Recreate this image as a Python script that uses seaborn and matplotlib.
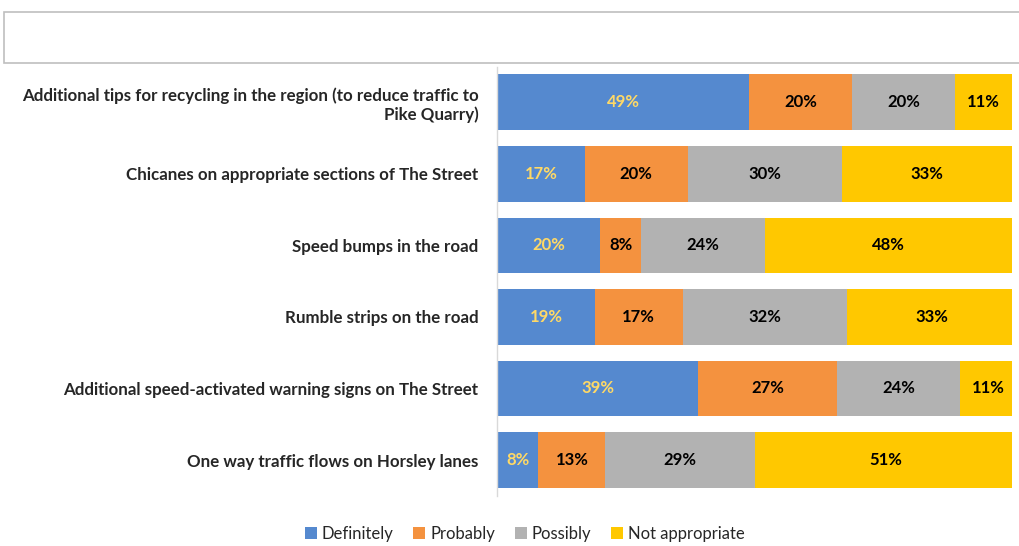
import matplotlib
matplotlib.use("Agg")
import matplotlib.pyplot as plt
from matplotlib.patches import Rectangle, Patch
import numpy as np
import pandas as pd
import seaborn as sns

categories = [
    "Additional tips for recycling in the region (to reduce traffic to\nPike Quarry)",
    "Chicanes on appropriate sections of The Street",
    "Speed bumps in the road",
    "Rumble strips on the road",
    "Additional speed-activated warning signs on The Street",
    "One way traffic flows on Horsley lanes",
]
series_names = ["Definitely", "Probably", "Possibly", "Not appropriate"]
definitely = [49, 17, 20, 19, 39, 8]
probably = [20, 20, 8, 17, 27, 13]
possibly = [20, 30, 24, 32, 24, 29]
not_appropriate = [11, 33, 48, 33, 11, 51]

colors = ["#5589CF", "#F4923F", "#B2B2B2", "#FFC800"]
label_colors = ["#FFD966", "#000000", "#000000", "#000000"]

sns.set_theme(style="white")
plt.rcParams["font.family"] = ["Lato", "DejaVu Sans"]

values = np.array([definitely, probably, possibly, not_appropriate], dtype=float)
cum = values.cumsum(axis=0)

fig = plt.figure(figsize=(10.19, 5.46), dpi=100)
ax = fig.add_axes([0.488, 0.092, 0.505, 0.786])

# stacked bars: draw cumulative totals from the outermost segment inward
for i in range(len(series_names) - 1, -1, -1):
    df = pd.DataFrame({"category": categories, "total": cum[i]})
    sns.barplot(data=df, x="total", y="category", orient="h", color=colors[i],
                width=0.78, linewidth=0, saturation=1, ax=ax)

for i in range(len(series_names)):
    for j in range(len(categories)):
        mid = cum[i, j] - values[i, j] / 2
        ax.text(mid, j, f"{int(values[i, j])}%", ha="center", va="center",
                fontsize=12, fontweight="bold", color=label_colors[i])

ax.set_xlim(0, 100)
ax.set_ylim(len(categories) - 0.5, -0.5)
ax.set_xlabel("")
ax.set_ylabel("")
ax.set_xticks([])
ax.tick_params(axis="y", length=0, pad=13.5)
for lbl in ax.get_yticklabels():
    lbl.set_fontweight("bold")
    lbl.set_fontsize(12.2)
    lbl.set_horizontalalignment("right")
for side in ["top", "right", "bottom"]:
    ax.spines[side].set_visible(False)
ax.spines["left"].set_color("#D9D9D9")
ax.spines["left"].set_linewidth(1)

# empty header box
fig.patches.append(Rectangle((0.004, 0.885), 1.0, 0.093, transform=fig.transFigure,
                             facecolor="white", edgecolor="#BFBFBF", linewidth=1.2))

handles = [Patch(facecolor=c, edgecolor="none") for c in colors]
fig.legend(handles, series_names, loc="center", bbox_to_anchor=(0.515, 0.022),
           ncol=4, frameon=False, fontsize=12, handlelength=0.7, handleheight=0.7,
           handletextpad=0.3, columnspacing=1.2)

fig.savefig("out.png", dpi=100)
